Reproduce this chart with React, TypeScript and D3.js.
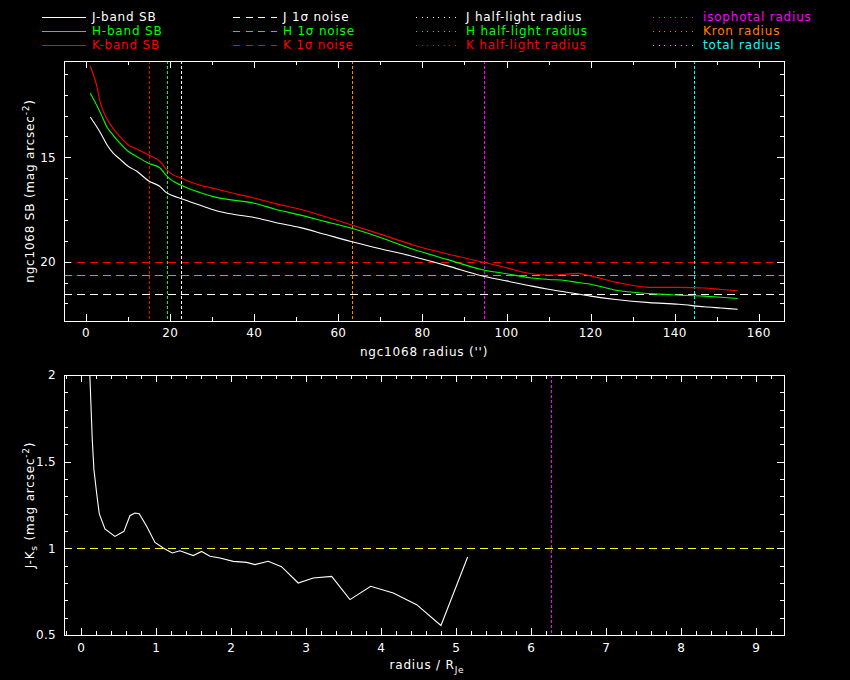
import * as d3 from "d3";
import { useEffect, useRef } from "react";

// surface brightness profiles (mag arcsec^-2) vs radius (arcsec)
const radius = [1, 2.5, 3.5, 5, 6.5, 8, 10, 12, 15, 17.5, 19, 20.5, 22.5, 25, 27, 31, 35, 40, 45, 51, 57, 63, 70, 78, 86, 94, 100, 106, 110, 114, 117, 120, 126, 134, 141, 147, 151, 155];
const sbJ = [13.07, 13.53, 13.86, 14.41, 14.81, 15.08, 15.43, 15.66, 16.15, 16.39, 16.68, 16.83, 16.97, 17.15, 17.29, 17.56, 17.73, 17.88, 18.12, 18.37, 18.7, 19.03, 19.38, 19.76, 20.2, 20.67, 20.92, 21.17, 21.32, 21.45, 21.55, 21.65, 21.81, 21.96, 22.04, 22.16, 22.22, 22.28];
const sbH = [11.93, 12.5, 12.91, 13.56, 13.96, 14.31, 14.71, 14.96, 15.3, 15.5, 15.85, 16.12, 16.33, 16.54, 16.68, 16.92, 17.05, 17.2, 17.49, 17.77, 18.08, 18.39, 18.84, 19.42, 19.9, 20.37, 20.58, 20.78, 20.85, 20.9, 21.0, 21.08, 21.37, 21.53, 21.6, 21.65, 21.7, 21.76];
const sbK = [10.63, 11.54, 12.47, 13.17, 13.64, 14.0, 14.4, 14.6, 14.9, 15.18, 15.55, 15.82, 15.98, 16.2, 16.33, 16.52, 16.72, 16.95, 17.22, 17.49, 17.85, 18.23, 18.68, 19.21, 19.63, 20.0, 20.29, 20.58, 20.64, 20.6, 20.56, 20.68, 20.98, 21.23, 21.23, 21.26, 21.33, 21.39];

const bandNames = ["J", "H", "K"];
const bandColors = ["#ffffff", "#00ff00", "#ff0000"];
const noiseLevel = [21.56, 20.65, 20.0];
const halfLightRadius = [22.5, 19.2, 15.07];

const apertureNames = ["isophotal radius", "Kron radius", "total radius"];
const apertureColors = ["#ff00ff", "#ff8000", "#00ffff"];
const apertureRadius = [94.6, 63.3, 144.6];

// J-Ks colour vs radius / R_Je
const normRadius = [0.11, 0.147, 0.169, 0.205, 0.24, 0.316, 0.449, 0.569, 0.649, 0.716, 0.773, 0.872, 0.983, 1.093, 1.213, 1.316, 1.493, 1.605, 1.716, 1.849, 2.027, 2.205, 2.316, 2.493, 2.67, 2.893, 3.093, 3.339, 3.583, 3.859, 4.16, 4.472, 4.796, 5.152];
const colourJK = [2.05, 1.627, 1.454, 1.319, 1.2, 1.112, 1.069, 1.098, 1.188, 1.204, 1.2, 1.127, 1.034, 1.002, 0.973, 0.986, 0.958, 0.982, 0.954, 0.944, 0.925, 0.919, 0.906, 0.925, 0.894, 0.8, 0.829, 0.838, 0.704, 0.781, 0.742, 0.675, 0.555, 0.95];
const colourRef = 1.0;
const isophotalNorm = 6.26;

const W = 850;
const H = 680;
const FONT = "DejaVu Sans, sans-serif";
const DASH = "7.5,5.5";
const DOT = "3,2";

type Sel = d3.Selection<SVGGElement, unknown, null, undefined>;

function drawFrame(
    g: Sel,
    x: d3.ScaleLinear<number, number>,
    y: d3.ScaleLinear<number, number>,
    xMinor: number, xMajor: number,
    yMinor: number, yMajor: number
) {
    const [x0, x1] = x.range();
    const [y0, y1] = y.range(); // y0 bottom, y1 top
    const big = 7, small = 4;
    const ticks = g.append("g").attr("stroke", "#fff").attr("shape-rendering", "crispEdges");
    const xd = x.domain();
    for (let i = Math.ceil(xd[0] / xMinor); i * xMinor <= xd[1]; i++) {
        const v = i * xMinor;
        const len = Math.abs(v / xMajor - Math.round(v / xMajor)) < 1e-6 ? big : small;
        const px = Math.round(x(v)) + 0.5;
        ticks.append("line").attr("x1", px).attr("x2", px).attr("y1", y0).attr("y2", y0 - len);
        ticks.append("line").attr("x1", px).attr("x2", px).attr("y1", y1).attr("y2", y1 + len);
    }
    const yd = y.domain();
    const ylo = Math.min(yd[0], yd[1]), yhi = Math.max(yd[0], yd[1]);
    for (let i = Math.ceil(ylo / yMinor - 1e-6); i * yMinor <= yhi + 1e-6; i++) {
        const v = i * yMinor;
        const len = Math.abs(v / yMajor - Math.round(v / yMajor)) < 1e-6 ? big : small;
        const py = Math.round(y(v)) + 0.5;
        ticks.append("line").attr("x1", x0).attr("x2", x0 + len).attr("y1", py).attr("y2", py);
        ticks.append("line").attr("x1", x1).attr("x2", x1 - len).attr("y1", py).attr("y2", py);
    }
    g.append("rect")
        .attr("x", x0 + 0.5).attr("y", y1 + 0.5)
        .attr("width", x1 - x0).attr("height", y0 - y1)
        .attr("fill", "none").attr("stroke", "#fff").attr("shape-rendering", "crispEdges");
}

export default function App() {
    const ref = useRef<SVGSVGElement | null>(null);

    useEffect(() => {
        if (!ref.current) return;
        const svg = d3.select(ref.current);
        svg.selectAll("*").remove();
        svg.append("rect").attr("width", W).attr("height", H).attr("fill", "#000");

        const defs = svg.append("defs");

        // ---------- Top panel: SB profiles ----------
        const xTop = d3.scaleLinear().domain([-5.25, 166]).range([64, 784]);
        const yTop = d3.scaleLinear().domain([22.84, 10.39]).range([321, 61]);
        defs.append("clipPath").attr("id", "clipTop").append("rect")
            .attr("x", 64).attr("y", 61).attr("width", 720).attr("height", 260);

        const top = svg.append("g");
        const topPlot = top.append("g").attr("clip-path", "url(#clipTop)");

        // noise levels
        noiseLevel.forEach((lv, i) => {
            const py = Math.round(yTop(lv)) + 0.5;
            topPlot.append("line")
                .attr("x1", 64).attr("x2", 784).attr("y1", py).attr("y2", py)
                .attr("stroke", bandColors[i]).attr("stroke-dasharray", DASH)
                .attr("shape-rendering", "crispEdges");
        });
        // half-light radii
        halfLightRadius.forEach((r, i) => {
            const px = Math.round(xTop(r)) + 0.5;
            topPlot.append("line")
                .attr("x1", px).attr("x2", px).attr("y1", 61).attr("y2", 321)
                .attr("stroke", bandColors[i]).attr("stroke-dasharray", DOT)
                .attr("shape-rendering", "crispEdges");
        });
        apertureRadius.forEach((r, i) => {
            const px = Math.round(xTop(r)) + 0.5;
            topPlot.append("line")
                .attr("x1", px).attr("x2", px).attr("y1", 61).attr("y2", 321)
                .attr("stroke", apertureColors[i]).attr("stroke-dasharray", DOT)
                .attr("shape-rendering", "crispEdges");
        });

        const profiles = [sbJ, sbH, sbK];
        profiles.forEach((sb, i) => {
            const line = d3.line<number>()
                .x((_, k) => xTop(radius[k]))
                .y((d) => yTop(d))
                .curve(d3.curveMonotoneX);
            topPlot.append("path")
                .attr("d", line(sb))
                .attr("fill", "none")
                .attr("stroke", bandColors[i])
                .attr("stroke-width", 1.1);
        });

        drawFrame(top, xTop, yTop, 10, 20, 1, 5);

        top.append("g").attr("class", "tick").selectAll("text")
            .data([0, 20, 40, 60, 80, 100, 120, 140, 160])
            .join("text")
            .attr("x", (d) => xTop(d)).attr("y", 337)
            .attr("text-anchor", "middle")
            .text((d) => d);
        top.append("g").attr("class", "tick").selectAll("text")
            .data([15, 20])
            .join("text")
            .attr("x", 56).attr("y", (d) => yTop(d))
            .attr("dy", "0.36em")
            .attr("text-anchor", "end")
            .text((d) => d);

        top.append("text")
            .attr("x", 424).attr("y", 356)
            .attr("text-anchor", "middle")
            .text("ngc1068 radius ('')");

        const yt = top.append("text")
            .attr("transform", "translate(34,191) rotate(-90)")
            .attr("text-anchor", "middle");
        yt.append("tspan").text("ngc1068 SB (mag arcsec");
        yt.append("tspan").attr("dy", -5).attr("font-size", 9).text("-2");
        yt.append("tspan").attr("dy", 5).text(")");

        // ---------- Bottom panel: J-Ks colour ----------
        const xBot = d3.scaleLinear().domain([-0.23, 9.37]).range([64, 784]);
        const yBot = d3.scaleLinear().domain([0.5, 2]).range([635, 375]);
        defs.append("clipPath").attr("id", "clipBot").append("rect")
            .attr("x", 64).attr("y", 375).attr("width", 720).attr("height", 260);

        const bot = svg.append("g");
        const botPlot = bot.append("g").attr("clip-path", "url(#clipBot)");

        const refY = Math.round(yBot(colourRef)) + 0.5;
        botPlot.append("line")
            .attr("x1", 64).attr("x2", 784).attr("y1", refY).attr("y2", refY)
            .attr("stroke", "#ffff00").attr("stroke-dasharray", DASH)
            .attr("shape-rendering", "crispEdges");
        const isoX = Math.round(xBot(isophotalNorm)) + 0.5;
        botPlot.append("line")
            .attr("x1", isoX).attr("x2", isoX).attr("y1", 375).attr("y2", 635)
            .attr("stroke", "#ff00ff").attr("stroke-dasharray", DOT)
            .attr("shape-rendering", "crispEdges");

        const colourLine = d3.line<number>()
            .x((_, k) => xBot(normRadius[k]))
            .y((d) => yBot(d));
        botPlot.append("path")
            .attr("d", colourLine(colourJK))
            .attr("fill", "none")
            .attr("stroke", "#fff")
            .attr("stroke-width", 1.1);

        drawFrame(bot, xBot, yBot, 0.2, 1, 0.1, 0.5);

        bot.append("g").attr("class", "tick").selectAll("text")
            .data(d3.range(0, 10))
            .join("text")
            .attr("x", (d) => xBot(d)).attr("y", 652)
            .attr("text-anchor", "middle")
            .text((d) => d);
        bot.append("g").attr("class", "tick").selectAll("text")
            .data([0.5, 1, 1.5, 2])
            .join("text")
            .attr("x", 56).attr("y", (d) => yBot(d))
            .attr("dy", "0.36em")
            .attr("text-anchor", "end")
            .text((d) => d);

        const xb = bot.append("text")
            .attr("x", 427).attr("y", 669)
            .attr("text-anchor", "middle");
        xb.append("tspan").text("radius / R");
        xb.append("tspan").attr("dy", 4).attr("font-size", 9).text("Je");

        const yb = bot.append("text")
            .attr("transform", "translate(34,505) rotate(-90)")
            .attr("text-anchor", "middle");
        yb.append("tspan").text("J-K");
        yb.append("tspan").attr("dy", 3).attr("font-size", 9).text("s");
        yb.append("tspan").attr("dy", -3).text(" (mag arcsec");
        yb.append("tspan").attr("dy", -5).attr("font-size", 9).text("-2");
        yb.append("tspan").attr("dy", 5).text(")");

        // ---------- Legend ----------
        const legend = svg.append("g");
        const rowY = [17, 31, 45];
        const addEntry = (x0: number, x1: number, tx: number, row: number, color: string, dash: string | null, label: string) => {
            const py = rowY[row] + 0.5;
            legend.append("line")
                .attr("x1", x0).attr("x2", x1).attr("y1", py).attr("y2", py)
                .attr("stroke", color)
                .attr("stroke-dasharray", dash)
                .attr("shape-rendering", "crispEdges");
            legend.append("text")
                .attr("x", tx).attr("y", rowY[row])
                .attr("dy", "0.36em")
                .attr("fill", color)
                .text(label);
        };
        bandNames.forEach((b, i) => {
            addEntry(42, 86, 92, i, bandColors[i], null, `${b}-band SB`);
            addEntry(233, 277, 283, i, bandColors[i], "7,5.5", `${b} 1\u03c3 noise`);
            addEntry(416, 457, 466, i, bandColors[i], "1,4.5", `${b} half-light radius`);
        });
        apertureNames.forEach((n, i) => {
            addEntry(653, 694, 703, i, apertureColors[i], "1,4.5", n);
        });

        svg.selectAll("text")
            .attr("font-family", FONT)
            .attr("font-size", 12)
            .attr("letter-spacing", 0.8);
        svg.selectAll(".tick text").attr("letter-spacing", 0.3);
        svg.selectAll("text").filter(function () {
            return !(this as SVGTextElement).getAttribute("fill");
        }).attr("fill", "#fff");
        svg.selectAll("tspan").filter(function () {
            return (this as SVGTSpanElement).getAttribute("font-size") !== "9";
        }).attr("font-size", 12);
    }, []);

    return (
        <svg
            ref={ref}
            width={W}
            height={H}
            style={{ position: "absolute", left: 0, top: 0, display: "block" }}
        />
    );
}
